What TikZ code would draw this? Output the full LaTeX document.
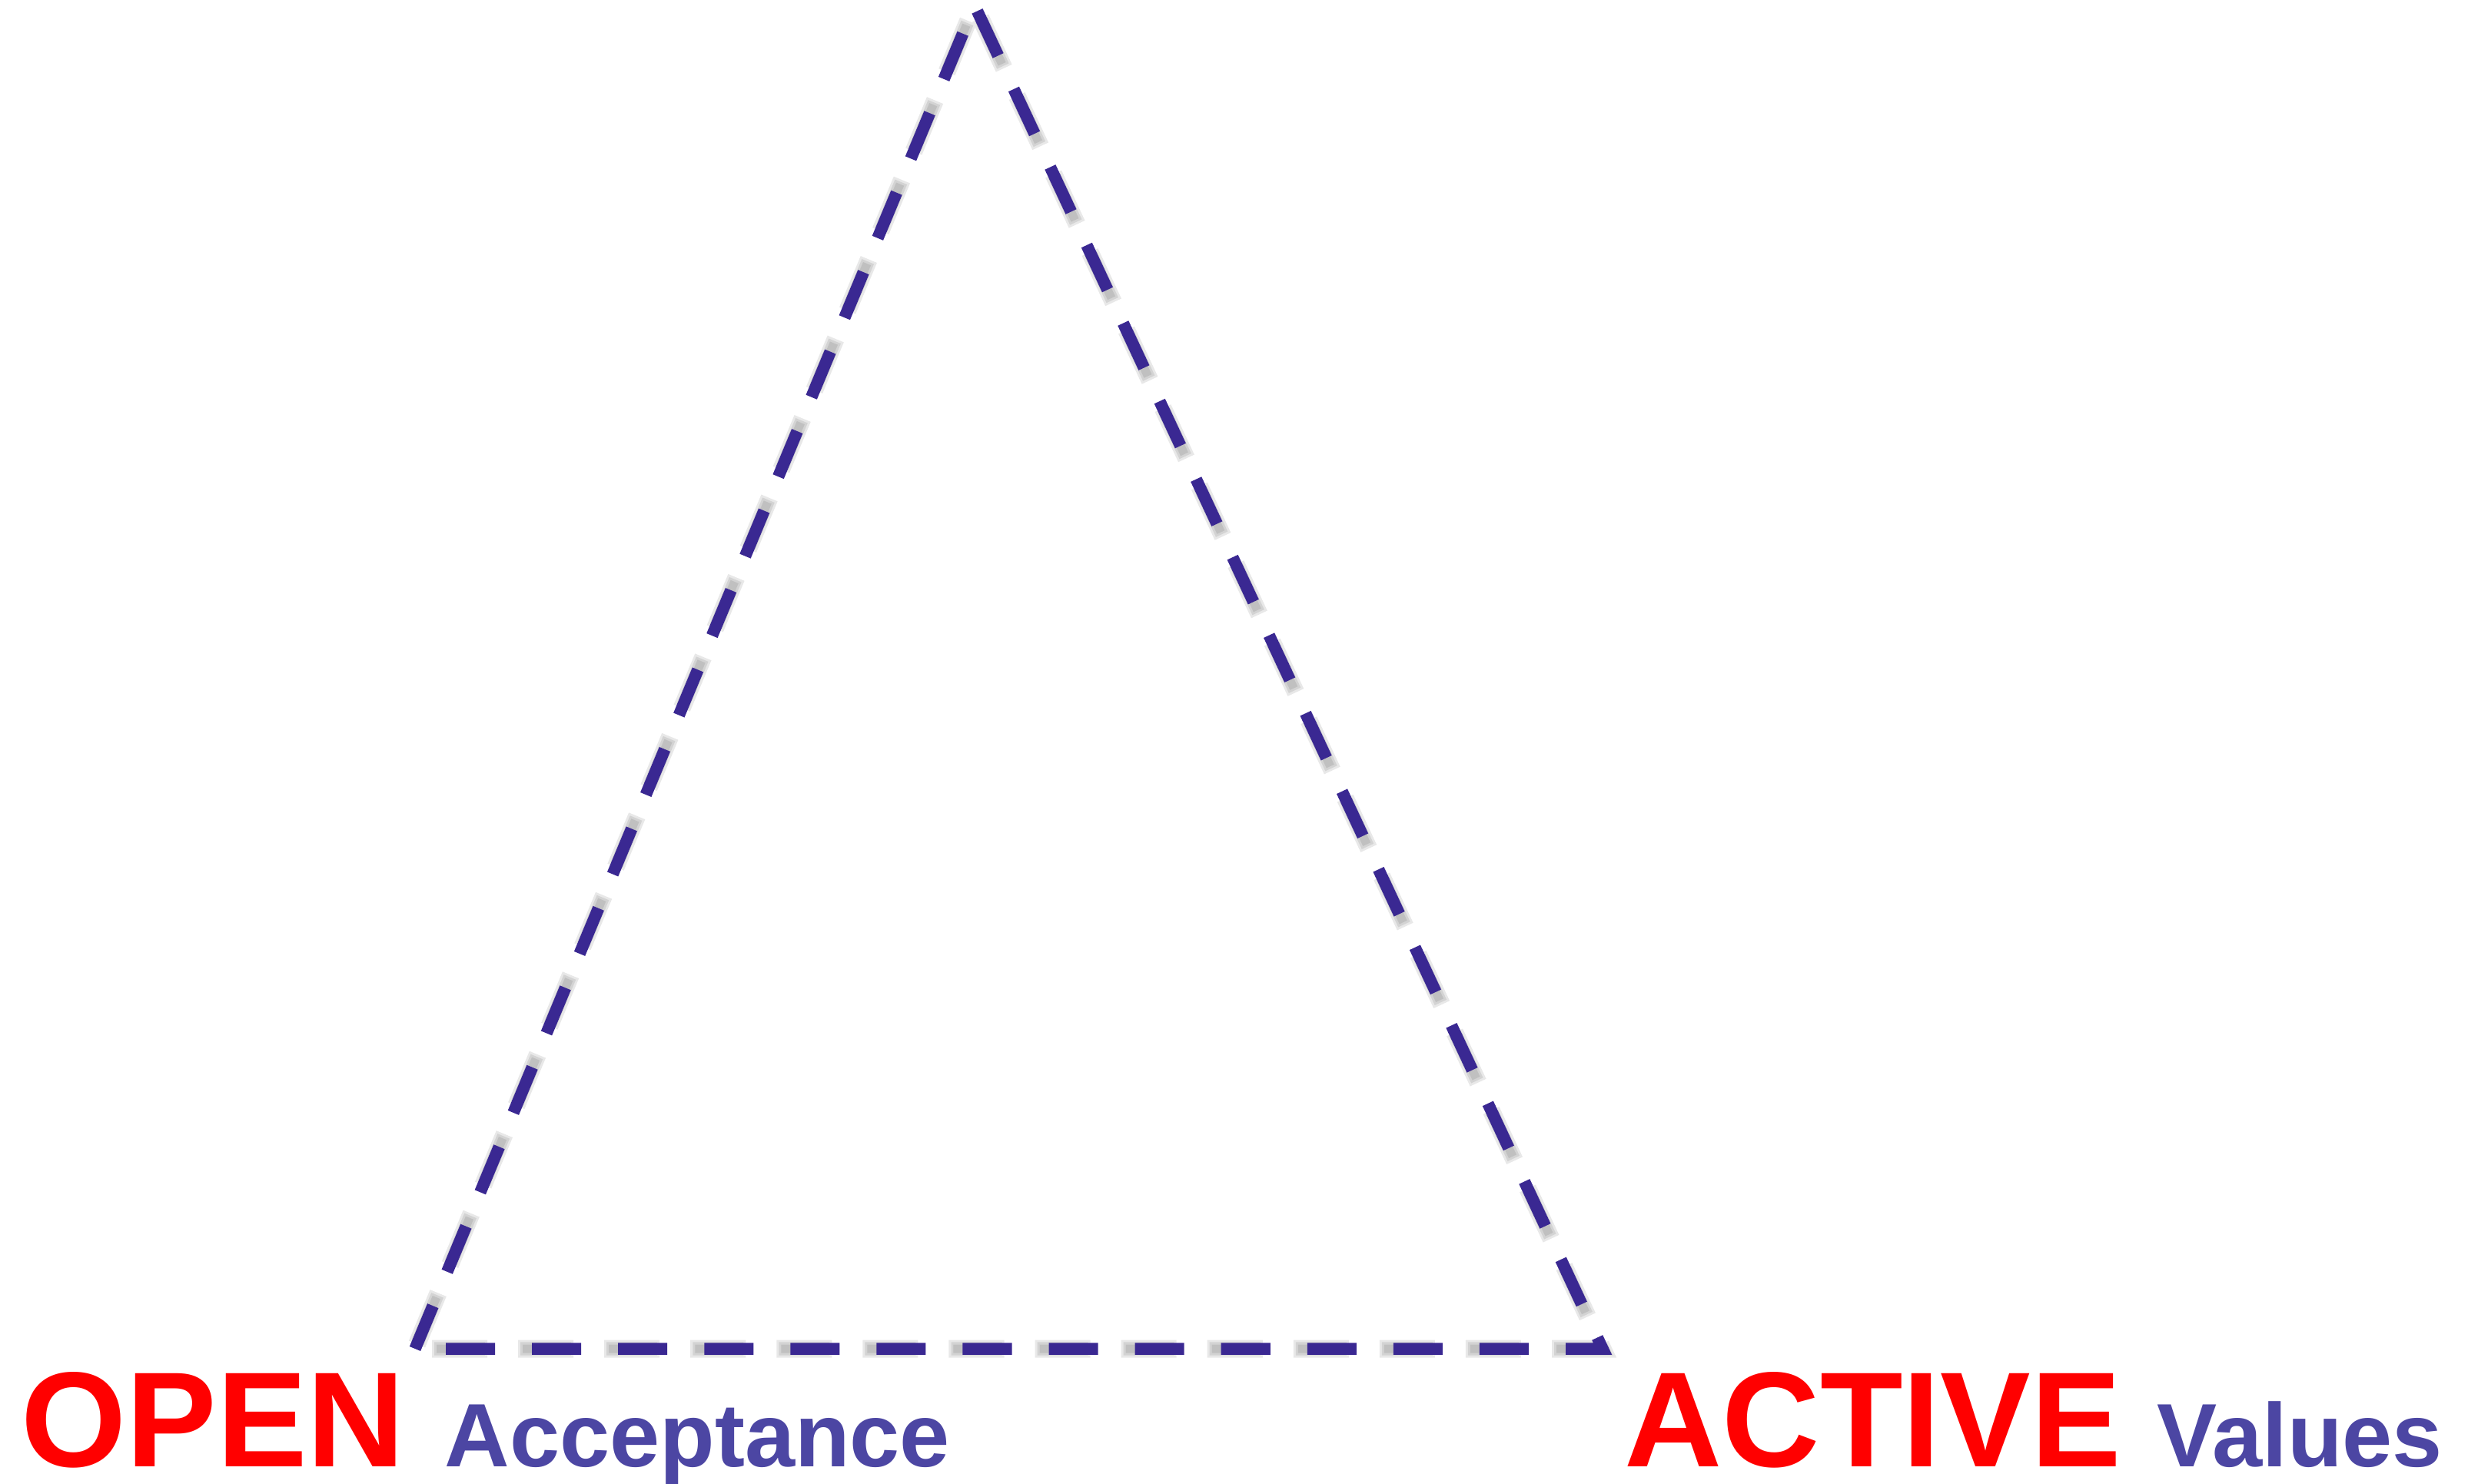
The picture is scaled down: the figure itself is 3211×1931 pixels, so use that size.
\documentclass[tikz,border=0pt]{standalone}
\usepackage{fontspec}
\setmainfont{Liberation Sans}
\definecolor{dashblue}{RGB}{58,40,146}
\definecolor{txtblue}{RGB}{76,70,163}
\definecolor{openred}{RGB}{255,0,0}
\begin{document}
\begin{tikzpicture}[x=0.01cm,y=-0.01cm,
  tri/.style={draw=dashblue, line width=4.41pt, dash pattern=on 18.21pt off 13.66pt, dash phase=20.49pt, line join=miter},
  shadowlayer/.style={draw=black, draw opacity=0.09, line join=miter},
  bigred/.style={anchor=base west, inner sep=0pt, text=openred, font=\fontsize{50.1}{60}\selectfont\bfseries},
  smallblue/.style={anchor=base west, inner sep=0pt, text=txtblue, font=\fontsize{33.3}{40}\selectfont\bfseries}]
\useasboundingbox (0,0) rectangle (3211,1931);
\coordinate (L) at (540,1755);
\coordinate (R) at (2085,1755);
\coordinate (A) at (1268,7);
% soft shadow
\begin{scope}[shift={(0,5)}]
  \draw[shadowlayer, line width=3.13pt, dash pattern=on 17.07pt off 14.80pt, dash phase=23.90pt] (L) -- (R) -- (A) -- cycle;
  \draw[shadowlayer, line width=4.84pt, dash pattern=on 18.78pt off 13.09pt, dash phase=24.75pt] (L) -- (R) -- (A) -- cycle;
  \draw[shadowlayer, line width=6.54pt, dash pattern=on 20.49pt off 11.38pt, dash phase=25.61pt] (L) -- (R) -- (A) -- cycle;
\end{scope}
% triangle
\draw[tri] (L) -- (R) -- (A) -- cycle;
% labels
\node[bigred] (open) at (27,1908) {OPEN};
\node[smallblue] (acc) at (578,1908) {Acceptance};
\node[bigred] (active) at (2113,1908) {ACTIVE};
\node[smallblue] (values) at (2806,1908) {Values};
\end{tikzpicture}
\end{document}
